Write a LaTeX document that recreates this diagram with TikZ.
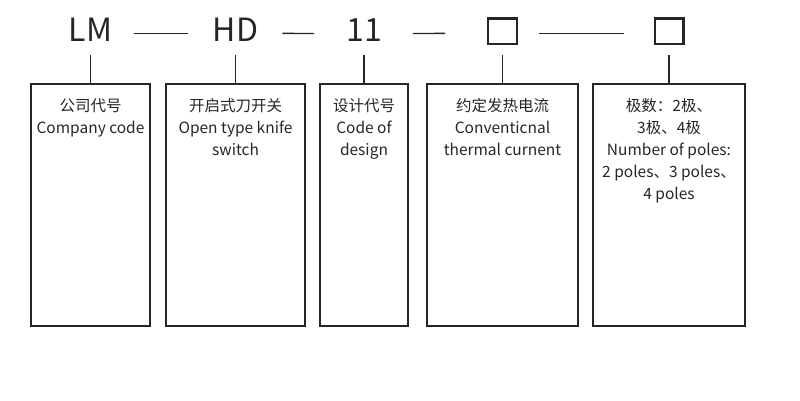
\documentclass[tikz,border=0pt]{standalone}
\usepackage{fontspec}
\setmainfont{Noto Sans CJK SC}
\usetikzlibrary{positioning}
\begin{document}
\begin{tikzpicture}[x=1pt, y=1pt, node distance=14.4pt, color=black!85,
        code/.style = {inner sep=2pt, font=\fontsize{32}{32}\selectfont},
        slot/.style = {draw, line width=2.4pt, inner sep=0pt, minimum width=28.6pt, minimum height=25.6pt},
        box/.style = {draw, line width=1.6pt, minimum height=242pt},
        desc/.style = {align=center, inner sep=0pt, font=\fontsize{15.5}{22}\selectfont},
        link/.style = {line width=1.3pt}]
    \useasboundingbox (0,0) rectangle (800,400);
    % boxes
    \node[box, minimum width=119pt] (b1) at (90.5,195) {};
    \node[box, minimum width=139pt] (b2) [right=of b1] {};
    \node[box, minimum width=88pt] (b3) [right=13.4pt of b2] {};
    \node[box, minimum width=151pt] (b4) [right=17.4pt of b3] {};
    \node[box, minimum width=152pt] (b5) [right=13.4pt of b4] {};

    \node[desc] (t1) [below=15pt of b1.north] {公司代号\\Company code};
    \node[desc] (t2) [below=15pt of b2.north] {开启式刀开关\\Open type knife\\switch};
    \node[desc] (t3) [below=15pt of b3.north] {设计代号\\Code of\\design};
    \node[desc] (t4) [below=15pt of b4.north] {约定发热电流\\Conventicnal\\thermal curnent};
    \node[desc] (t5) [below=15pt of b5.north] {极数：2极、\\3极、4极\\Number of poles:\\2 poles、3 poles、\\4 poles};

    % codes
    \node[code] (lm) [above=40pt of b1] {LM};
    \node[code] (hd) [above=40pt of b2] {HD};
    \node[code] (tt) [above=40pt of b3] {11};
    \node[slot] (s1) [above=38pt of b4] {};
    \node[slot] (s2) [above=38pt of b5] {};

    \draw[link, shorten >=12pt] (b1) -- (lm);
    \draw[link, shorten >=12pt] (b2) -- (hd);
    \draw[link, shorten >=12pt] (b3) -- (tt);
    \draw[link, shorten >=10pt] (b4) -- (s1);
    \draw[link, shorten >=10pt] (b5) -- (s2);

    \draw[link, shorten <=20pt, shorten >=23pt] ([yshift=-4pt]lm.east) -- ([yshift=-4pt]hd.west);
    \draw[link, shorten <=22pt, shorten >=30pt] ([yshift=-4pt]hd.east) -- ([yshift=-4pt]tt.west);
    \draw[link, shorten <=29pt, shorten >=42pt] ([yshift=-4pt]tt.east) -- ([yshift=-2pt]s1.west);
    \draw[link, shorten <=21pt, shorten >=30pt] ([yshift=-2pt]s1.east) -- ([yshift=-2pt]s2.west);
\end{tikzpicture}
\end{document}
